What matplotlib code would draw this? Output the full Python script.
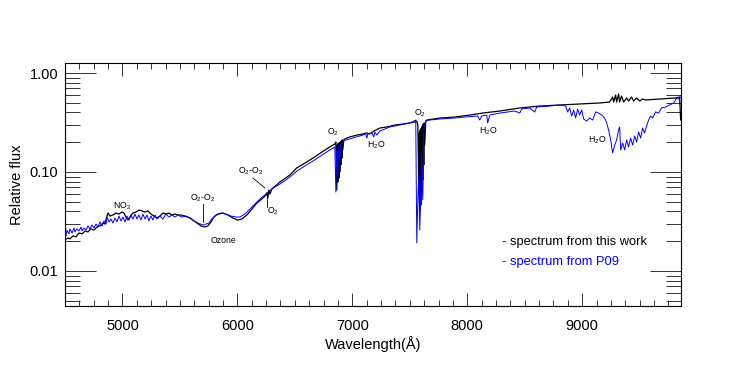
import matplotlib
matplotlib.use("Agg")
import matplotlib.pyplot as plt
from matplotlib.ticker import MultipleLocator, LogLocator, FuncFormatter, NullFormatter

plt.rcParams['font.family'] = ['Liberation Sans', 'DejaVu Sans']
plt.rcParams['mathtext.fontset'] = 'custom'
plt.rcParams['mathtext.rm'] = 'Liberation Sans'
plt.rcParams['mathtext.it'] = 'Liberation Sans:italic'

# spectrum from this work (wavelength in A, relative flux)
work_wl = [4500, 4526, 4543, 4570, 4596, 4622, 4648, 4674, 4700, 4726, 4752, 4778, 4804, 4830,
           4848, 4865, 4874, 4891, 4917, 4943, 4970, 4996, 5013, 5030, 5048, 5065, 5091, 5117,
           5143, 5170, 5196, 5222, 5248, 5274, 5300, 5326, 5352, 5378, 5404, 5430, 5457, 5483,
           5509, 5543, 5587, 5613, 5648, 5683, 5717, 5743, 5770, 5796, 5830, 5874, 5917, 5961,
           6004, 6039, 6083, 6126, 6170, 6213, 6248, 6257, 6265, 6274, 6283, 6300, 6370, 6457,
           6517, 6587, 6657, 6735, 6804, 6848,
           6857, 6865, 6869, 6874, 6878, 6883, 6887, 6891, 6896, 6900, 6904, 6909, 6913, 6917,
           6926, 6935, 6978, 7039, 7091, 7126, 7152, 7187, 7239, 7300, 7370, 7439, 7500, 7543,
           7561, 7570, 7578, 7583, 7587, 7591, 7596, 7600, 7604, 7609, 7613, 7617, 7622, 7626,
           7630, 7639, 7648, 7761, 7891, 8022, 8135, 8283, 8457, 8630, 8804, 8978, 9152, 9239,
           9265, 9274, 9291, 9300, 9317, 9326, 9343, 9361, 9387, 9404, 9430, 9448, 9474, 9500,
           9526, 9552, 9674, 9804, 9848, 9857]
work_flux = [0.0206, 0.0216, 0.0211, 0.0226, 0.0221, 0.0242, 0.0237, 0.0254, 0.0248, 0.0266,
             0.0259, 0.0278, 0.0285, 0.0305, 0.0298, 0.0359, 0.0385, 0.0359, 0.0368, 0.0385,
             0.0376, 0.0394, 0.0385, 0.0351, 0.0327, 0.0351, 0.0385, 0.0394, 0.0413, 0.0404,
             0.0394, 0.0404, 0.0376, 0.0359, 0.0343, 0.0359, 0.0385, 0.0376, 0.0385, 0.0368,
             0.0376, 0.0368, 0.0368, 0.0359, 0.0343, 0.0327, 0.0305, 0.0285, 0.0278, 0.0285,
             0.0313, 0.0351, 0.0376, 0.0385, 0.0368, 0.0343, 0.0327, 0.0335, 0.0368, 0.0423,
             0.0486, 0.0534, 0.0586, 0.0614, 0.0546, 0.0658, 0.0599, 0.0674, 0.0792, 0.0933,
             0.110, 0.123, 0.138, 0.159, 0.179, 0.192,
             0.201, 0.0658, 0.187, 0.0792, 0.196, 0.0870, 0.196, 0.100, 0.201, 0.118, 0.206,
             0.138, 0.211, 0.167, 0.211, 0.216, 0.226, 0.236, 0.242, 0.248, 0.242, 0.259,
             0.278, 0.285, 0.298, 0.305, 0.313, 0.320,
             0.327, 0.298, 0.0830, 0.248, 0.0413, 0.266, 0.0464, 0.278, 0.0586, 0.291, 0.0830,
             0.305, 0.118, 0.313, 0.187, 0.327, 0.335, 0.351, 0.359, 0.376, 0.394, 0.413, 0.443,
             0.464, 0.475, 0.486, 0.498, 0.509,
             0.572, 0.509, 0.599, 0.509, 0.614, 0.509, 0.586, 0.509, 0.559, 0.521, 0.572, 0.521,
             0.559, 0.521, 0.546, 0.534, 0.546, 0.559, 0.572, 0.335]

# spectrum from P09
p09_wl = [4500, 4509, 4517, 4535, 4543, 4561, 4578, 4587, 4604, 4622, 4639, 4648, 4665, 4683,
          4700, 4717, 4735, 4752, 4770, 4787, 4804, 4822, 4839, 4857, 4865, 4883, 4900, 4917,
          4935, 4952, 4970, 4987, 5004, 5022, 5039, 5057, 5074, 5091, 5109, 5126, 5143, 5161,
          5178, 5196, 5213, 5230, 5248, 5265, 5283, 5300, 5326, 5352, 5378, 5404, 5430, 5457,
          5483, 5517, 5552, 5587, 5622, 5657, 5700, 5726, 5752, 5778, 5813, 5857, 5900, 5943,
          5987, 6022, 6065, 6109, 6152, 6196, 6239, 6265, 6300, 6370, 6457, 6517, 6587, 6657,
          6735, 6804, 6848, 6857, 6865, 6874, 6883, 6891, 6900, 6917, 6978, 7039, 7091, 7117,
          7126, 7135, 7170, 7187, 7196, 7213, 7239, 7283, 7326, 7370, 7413, 7457, 7500, 7535,
          7552, 7561, 7570, 7578, 7587, 7596, 7604, 7613, 7622, 7639, 7674, 7761, 7891, 7978,
          8091, 8109, 8126, 8170, 8178, 8196, 8283, 8413, 8457, 8474, 8543, 8587, 8604, 8717,
          8804, 8857, 8874, 8891, 8909, 8926, 8943, 8961, 8978, 8996, 9013, 9039, 9065, 9091,
          9117, 9143, 9170, 9196, 9213, 9230, 9248, 9265, 9283, 9300, 9317, 9326, 9335, 9352,
          9370, 9387, 9404, 9422, 9439, 9457, 9474, 9491, 9509, 9526, 9543, 9561, 9578, 9596,
          9613, 9639, 9665, 9691, 9726, 9761, 9796, 9822, 9839, 9857]
p09_flux = [0.0248, 0.0226, 0.0259, 0.0237, 0.0266, 0.0242, 0.0272, 0.0248, 0.0266, 0.0254,
            0.0278, 0.0254, 0.0272, 0.0259, 0.0285, 0.0266, 0.0291, 0.0272, 0.0298, 0.0278,
            0.0313, 0.0285, 0.0320, 0.0298, 0.0351, 0.0313, 0.0335, 0.0305, 0.0343, 0.0313,
            0.0359, 0.0320, 0.0351, 0.0313, 0.0359, 0.0327, 0.0368, 0.0335, 0.0376, 0.0335,
            0.0368, 0.0327, 0.0376, 0.0335, 0.0368, 0.0320, 0.0359, 0.0327, 0.0368, 0.0335,
            0.0359, 0.0335, 0.0376, 0.0351, 0.0368, 0.0351, 0.0368, 0.0351, 0.0359, 0.0343,
            0.0320, 0.0305, 0.0291, 0.0298, 0.0305, 0.0335, 0.0368, 0.0385, 0.0376, 0.0359,
            0.0351, 0.0351, 0.0376, 0.0423, 0.0475, 0.0534, 0.0586, 0.0628, 0.0674, 0.0756,
            0.0890, 0.102, 0.115, 0.129, 0.148, 0.167, 0.179, 0.0628, 0.167, 0.0933, 0.183,
            0.132, 0.192, 0.206, 0.216, 0.226, 0.236, 0.242, 0.220, 0.242, 0.248, 0.226, 0.254,
            0.236, 0.259, 0.272, 0.285, 0.291, 0.298, 0.305, 0.313, 0.327, 0.335, 0.0192,
            0.0522, 0.0890, 0.0259, 0.0658, 0.167, 0.0522, 0.266, 0.327, 0.335, 0.343, 0.351,
            0.359, 0.368, 0.335, 0.368, 0.376, 0.313, 0.376, 0.394, 0.413, 0.394, 0.433, 0.443,
            0.404, 0.453, 0.464, 0.475, 0.464, 0.404, 0.443, 0.368, 0.423, 0.351, 0.433, 0.376,
            0.423, 0.343, 0.327, 0.351, 0.335, 0.404, 0.394, 0.376, 0.351, 0.313, 0.266, 0.211,
            0.156, 0.187, 0.211, 0.266, 0.285, 0.167, 0.196, 0.167, 0.211, 0.179, 0.220, 0.187,
            0.231, 0.201, 0.254, 0.220, 0.278, 0.248, 0.291, 0.335, 0.368, 0.351, 0.404, 0.394,
            0.443, 0.453, 0.475, 0.498, 0.559, 0.546, 0.572]

# telluric labels: (text, wavelength, flux)
labels = [("NO$_\\mathregular{2}$", 5000, 0.0454),
          ("O$_\\mathregular{2}$-O$_\\mathregular{2}$", 5700, 0.0546),
          ("Ozone", 5878, 0.0201),
          ("O$_\\mathregular{2}$-O$_\\mathregular{2}$", 6117, 0.1024),
          ("O$_\\mathregular{2}$", 6309, 0.0404),
          ("O$_\\mathregular{2}$", 6835, 0.254),
          ("H$_\\mathregular{2}$O", 7205, 0.187),
          ("O$_\\mathregular{2}$", 7587, 0.394),
          ("H$_\\mathregular{2}$O", 8178, 0.259),
          ("H$_\\mathregular{2}$O", 9135, 0.211)]
# pointer lines: (wl0, wl1, flux0, flux1)
pointers = [(5700, 5700, 0.0475, 0.0313),
            (6135, 6239, 0.0870, 0.0690),
            (6257, 6257, 0.0559, 0.0444)]

fig = plt.figure(figsize=(7.47, 3.72), dpi=100)
ax = fig.add_axes([65 / 747, 1 - 306 / 372, 616 / 747, 243 / 372])

ax.plot(work_wl, work_flux, color='black', lw=0.9)
ax.plot(p09_wl, p09_flux, color='#0000ff', lw=0.7)

for txt, wl, fl in labels:
    ax.text(wl, fl, txt, fontsize=6.3, ha='center', va='center')
for w0, w1, f0, f1 in pointers:
    ax.plot([w0, w1], [f0, f1], color='black', lw=0.6)

ax.set_yscale('log')
ax.set_xlim(4500, 9860)
ax.set_ylim(0.00443, 1.262)

ax.xaxis.set_major_locator(MultipleLocator(1000))
ax.xaxis.set_minor_locator(MultipleLocator(125))
ax.yaxis.set_major_locator(LogLocator(base=10, numticks=10))
ax.yaxis.set_minor_locator(LogLocator(base=10, subs=range(2, 10), numticks=20))
ax.yaxis.set_major_formatter(FuncFormatter(lambda v, p: f"{v:.2f}"))
ax.yaxis.set_minor_formatter(NullFormatter())

ax.tick_params(which='both', direction='in', top=True, right=True, color='#333333',
               width=0.7, labelsize=10.5)
ax.tick_params(axis='x', which='major', length=9.5, pad=9)
ax.tick_params(axis='x', which='minor', length=4.5)
ax.tick_params(axis='y', which='major', length=22, pad=5)
ax.tick_params(axis='y', which='minor', length=11)
for s in ax.spines.values():
    s.set_linewidth(0.8)

ax.set_xlabel('Wavelength(Å)', fontsize=10.5)
ax.xaxis.set_label_coords(0.5, -0.123)
fig.text(17 / 747, 1 - 185 / 372, 'Relative flux', rotation=90, fontsize=10.5,
         ha='center', va='center')

ax.text(0.709, 0.263, '- spectrum from this work', transform=ax.transAxes,
        fontsize=9.3, va='center', color='black')
ax.text(0.709, 0.181, '- spectrum from P09', transform=ax.transAxes,
        fontsize=9.3, va='center', color='#0000ff')

fig.savefig('out.png', dpi=100)
